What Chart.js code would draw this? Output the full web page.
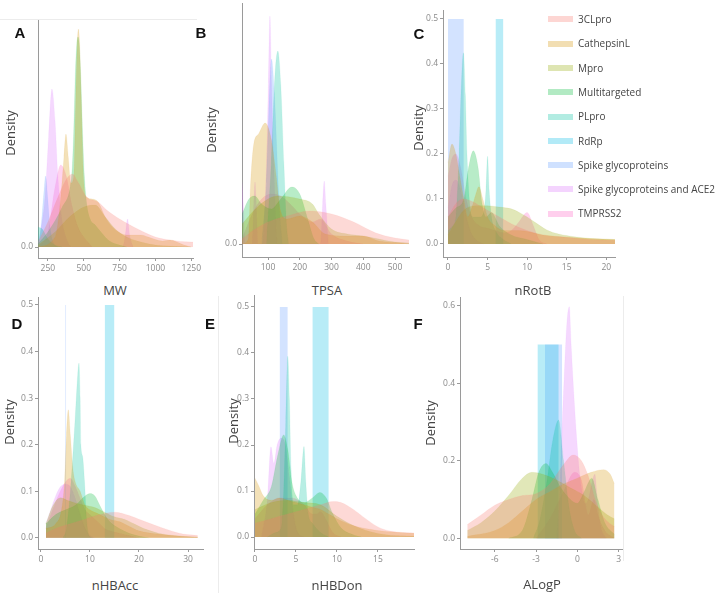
<!DOCTYPE html>
<html>
<head>
<meta charset="utf-8">
<script src="https://cdn.jsdelivr.net/npm/chart.js@4"></script>
<style>
  body { margin: 0; background: #fff; }
  #fig { position: relative; width: 722px; height: 593px; overflow: hidden; font-family: "Open Sans", sans-serif; }
  #fig canvas { position: absolute; }
  .titulo { position: absolute; white-space: nowrap; color: #444; font-size: 13px; transform: translate(-50%, -50%); }
  .dens { position: absolute; white-space: nowrap; color: #444; font-size: 13px; transform: translate(-50%, -50%) rotate(-90deg); }
  .letra { position: absolute; font: bold 15px "Liberation Sans", Arial, sans-serif; color: #111; transform: translate(-50%, -50%); }
  .leyenda { position: absolute; left: 548px; height: 12px; white-space: nowrap; font-size: 10px; color: #444; }
  .leyenda span { display: inline-block; width: 25px; height: 6px; margin-right: 5px; vertical-align: middle; position: relative; top: -1px; }
  .marco { position: absolute; background: #ececec; }
</style>
</head>
<body>
<div id="fig"></div>
<script>
// Grupos y colores (paleta ggplot)
const nombresSeries = ["3CLpro", "CathepsinL", "Mpro", "Multitargeted", "PLpro", "RdRp",
  "Spike glycoproteins", "Spike glycoproteins and ACE2", "TMPRSS2"];
const coloresSeries = ["#F8766D", "#D39200", "#93AA00", "#00BA38", "#00C19F", "#00B9E3",
  "#619CFF", "#DB72FB", "#FF61C3"];

// Ticks
const ticksMW = [250, 500, 750, 1000, 1250];
const ticksTPSA = [100, 200, 300, 400, 500];
const ticksRotB = [0, 5, 10, 15, 20];
const ticksHBAcc = [0, 10, 20, 30];
const ticksHBDon = [0, 5, 10, 15];
const ticksALogP = [-6, -3, 0, 3];
const ticksDensCero = [0];
const ticksDens05 = [0, 0.1, 0.2, 0.3, 0.4, 0.5];
const ticksDens06 = [0, 0.2, 0.4, 0.6];

// A: MW
const mw3CLpro = [[181,0.00025],[250,0.00125],[320,0.0025],[380,0.0034],[420,0.00365],[460,0.00325],[520,0.0025],[600,0.00225],[660,0.00185],[750,0.0014],[890,0.00085],[1000,0.0005],[1100,0.00035],[1250,0.00025],[1262,0.00025]];
const mwCathepsinL = [[181,0],[300,0.0005],[340,0.0025],[362,0.0045],[376,0.00565],[392,0.0045],[410,0.0032],[430,0.0035],[445,0.0075],[455,0.0102],[463,0.0109],[471,0.0102],[482,0.0075],[498,0.0035],[520,0.0025],[560,0.0024],[600,0.00225],[650,0.0015],[700,0.001],[800,0.0006],[900,0.0006],[950,0.0005],[1050,0.0003],[1100,0.00035],[1200,0.0001],[1250,0]];
const mwMpro = [[181,0.0001],[300,0.00075],[400,0.0015],[500,0.002],[580,0.0021],[650,0.0015],[720,0.0009],[800,0.0005],[900,0.00025],[1000,0.0001],[1100,0.00005],[1250,0]];
const mwMultitargeted = [[181,0.00015],[250,0.00075],[350,0.002],[405,0.003],[420,0.004],[430,0.0058],[442,0.0088],[452,0.0102],[460,0.0105],[468,0.0102],[478,0.0088],[492,0.0057],[505,0.0035],[520,0.0022],[545,0.0014],[580,0.0011],[620,0.00075],[680,0.0003],[750,0.0001],[800,0]];
const mwPLpro = [[181,0.001],[210,0.0009],[250,0.0004],[300,0.0001],[350,0]];
const mwRdRp = [];
const mwSpike = [[181,0],[205,0.00125],[222,0.00275],[234,0.00355],[248,0.0025],[265,0.001],[290,0.0002],[320,0]];
const mwSpikeACE2 = [[181,0],[200,0.0008],[230,0.0025],[255,0.0055],[278,0.0079],[300,0.0063],[320,0.0035],[345,0.0015],[380,0.0004],[420,0],[770,0],[790,0.0006],[805,0.0014],[820,0.0006],[845,0]];
const mwTMPRSS2 = [[181,0],[250,0.00075],[300,0.003],[340,0.0041],[380,0.0035],[420,0.002],[460,0.001],[500,0.0005],[560,0]];

// B: TPSA
const tpsa3CLpro = [[18,0.0005],[60,0.0015],[100,0.0022],[160,0.0028],[230,0.0033],[300,0.003],[370,0.0022],[440,0.0011],[500,0.0006],[544,0.0004]];
const tpsaCathepsinL = [[18,0],[38,0.0005],[45,0.006],[55,0.01],[70,0.011],[91,0.0121],[110,0.0105],[125,0.007],[138,0.0035],[160,0.0025],[200,0.0028],[240,0.0022],[280,0.001],[350,0.0008],[400,0.0008],[450,0.0003],[520,0.0001],[544,0]];
const tpsaMpro = [[18,0.002],[60,0.0035],[100,0.0045],[130,0.0048],[200,0.0045],[240,0.004],[260,0.003],[300,0.0015],[350,0.001],[400,0.0008],[500,0.0002],[544,0.0001]];
const tpsaMultitargeted = [[18,0.003],[40,0.0045],[58,0.0048],[80,0.004],[110,0.0035],[140,0.0045],[175,0.0057],[200,0.005],[225,0.0025],[245,0.0005],[260,0]];
const tpsaPLpro = [[95,0],[110,0.008],[122,0.017],[131,0.0193],[140,0.016],[150,0.008],[158,0.002],[165,0]];
const tpsaRdRp = [];
const tpsaSpike = [[80,0],[95,0.006],[111,0.0185],[120,0.015],[135,0.004],[145,0]];
const tpsaSpikeACE2 = [[18,0.0062],[22,0.004],[28,0],[50,0],[55,0.004],[59,0.0062],[63,0.004],[68,0],[82,0],[95,0.008],[101,0.016],[106,0.0228],[111,0.016],[118,0.008],[130,0],[265,0],[272,0.004],[277,0.0063],[282,0.004],[290,0]];
const tpsaTMPRSS2 = [[18,0.0005],[50,0.003],[80,0.0045],[110,0.005],[140,0.0048],[170,0.004],[200,0.003],[240,0.0022],[265,0.0025],[300,0.001],[350,0.0003],[400,0]];

// C: nRotB
const rotb3CLpro = [[0,0.06],[1,0.09],[2,0.1],[3,0.095],[4,0.085],[5,0.075],[6,0.065],[7,0.055],[8,0.045],[10,0.03],[12,0.02],[15,0.015],[18,0.01],[21.1,0.008]];
const rotbCathepsinL = [[0,0.18],[0.5,0.222],[1,0.2],[1.5,0.15],[2,0.1],[2.5,0.06],[3,0.08],[3.5,0.11],[3.9,0.127],[4.4,0.1],[5,0.06],[6,0.04],[7,0.03],[9,0.03],[12,0.02],[15,0.015],[21.1,0.01]];
const rotbMpro = [[0,0.02],[1,0.05],[2,0.075],[3.5,0.085],[5,0.085],[6.5,0.082],[8,0.078],[9,0.07],[10,0.06],[11,0.048],[12.5,0.031],[14,0.022],[16,0.016],[18,0.012],[21.1,0.01]];
const rotbMultitargeted = [[0,0.06],[1,0.08],[2,0.1],[2.6,0.17],[3.2,0.207],[3.8,0.17],[4.3,0.09],[4.8,0.06],[5.5,0.07],[6.5,0.04],[8,0.02],[10,0.01],[12,0]];
const rotbPLpro = [[0,0.03],[0.6,0.04],[1,0.06],[1.4,0.2],[1.7,0.36],[1.95,0.425],[2.2,0.33],[2.4,0.2],[2.8,0.08],[3.2,0.06],[4,0.06],[4.5,0.07],[4.8,0.12],[5,0.195],[5.2,0.12],[5.5,0.06],[6,0.03],[7,0.01],[8,0]];
const rotbRdRp = [[6,0],[6,0.5],[7,0.5],[7,0]];
const rotbSpike = [[0,0],[0,0.5],[2,0.5],[2,0]];
const rotbSpikeACE2 = [[0,0.08],[0.5,0.13],[1,0.142],[1.6,0.12],[2.2,0.07],[2.8,0.03],[3.5,0.01],[4.5,0]];
const rotbTMPRSS2 = [[0,0.15],[0.5,0.19],[1,0.2],[1.6,0.17],[2.3,0.1],[3,0.06],[4,0.04],[5,0.035],[6,0.03],[7,0.025],[8,0.03],[9,0.05],[10,0.07],[10.8,0.04],[11.5,0.01],[12.5,0]];

// D: nHBAcc
const hba3CLpro = [[1,0.01],[3,0.02],[6,0.03],[9,0.04],[12,0.05],[15,0.055],[18,0.048],[20,0.04],[23,0.028],[26,0.017],[29,0.008],[32,0.005]];
const hbaCathepsinL = [[1,0.02],[3,0.03],[4.2,0.06],[4.8,0.12],[5.2,0.22],[5.58,0.275],[6,0.22],[6.5,0.15],[7,0.12],[8,0.1],[9,0.07],[10,0.06],[12,0.05],[14,0.04],[16,0.035],[18,0.025],[20,0.015],[24,0.008],[28,0.004],[32,0.002]];
const hbaMpro = [[1,0.03],[2.5,0.07],[4,0.086],[5.5,0.08],[7,0.075],[9,0.07],[11,0.065],[13,0.055],[15,0.045],[17,0.04],[19,0.03],[21,0.02],[24,0.01],[27,0.005],[32,0.001]];
const hbaMultitargeted = [[1,0.03],[3,0.05],[5,0.06],[7,0.07],[9,0.09],[10,0.095],[11,0.09],[12,0.07],[13,0.05],[14,0.035],[16,0.02],[18,0.01],[20,0.004],[22,0]];
const hbaPLpro = [[4.5,0],[5.2,0.02],[6,0.1],[6.5,0.175],[7,0.26],[7.5,0.35],[7.76,0.375],[8,0.3],[8.15,0.2],[8.5,0.175],[8.9,0.12],[9.3,0.04],[9.8,0.005],[10.5,0]];
const hbaRdRp = [[13,0],[13,0.5],[15,0.5],[15,0]];
const hbaSpike = [[4.95,0],[4.95,0.5],[5.15,0.5],[5.15,0]];
const hbaSpikeACE2 = [[1,0.03],[2,0.06],[3,0.09],[4,0.11],[5,0.115],[6,0.11],[7,0.085],[8,0.05],[9,0.02],[10,0.005],[11,0]];
const hbaTMPRSS2 = [[1,0.02],[2,0.05],[3.5,0.09],[5,0.12],[6,0.128],[7,0.11],[8,0.085],[9,0.06],[10,0.05],[11,0.04],[12,0.03],[13,0.02],[14,0.015],[16,0.01],[18,0.005],[20,0]];

// E: nHBDon
const hbd3CLpro = [[0,0.03],[2,0.04],[4,0.05],[6,0.06],[8,0.07],[9.5,0.077],[10.5,0.075],[12,0.06],[13.5,0.04],[15,0.022],[16.5,0.013],[18,0.01],[19.4,0.009]];
const hbdCathepsinL = [[0,0.128],[0.5,0.11],[1,0.09],[2,0.08],[3,0.085],[4,0.08],[5,0.075],[6,0.07],[7,0.065],[8,0.06],[9,0.05],[10,0.04],[12,0.025],[14,0.017],[16,0.012],[19.4,0.008]];
const hbdMpro = [[0,0.06],[2,0.075],[4,0.08],[6,0.075],[8,0.07],[10,0.045],[12,0.025],[14,0.012],[16,0.005],[19.4,0.002]];
const hbdMultitargeted = [[0,0.05],[1,0.08],[2,0.11],[2.8,0.18],[3.5,0.222],[4,0.19],[4.5,0.12],[5,0.09],[6,0.075],[7,0.085],[7.9,0.097],[8.7,0.085],[9.5,0.05],[10.5,0.02],[12,0.005],[13,0]];
const hbdPLpro = [[1.5,0],[2.5,0.01],[3.2,0.02],[3.5,0.1],[3.75,0.25],[4,0.393],[4.2,0.3],[4.4,0.15],[4.7,0.07],[5.2,0.07],[5.6,0.12],[5.98,0.197],[6.2,0.12],[6.5,0.05],[7,0.03],[8,0.01],[9,0]];
const hbdRdRp = [[7,0],[7,0.5],[9,0.5],[9,0]];
const hbdSpike = [[3,0],[3,0.5],[4,0.5],[4,0]];
const hbdSpikeACE2 = [[0.8,0],[1.5,0.08],[1.95,0.196],[2.3,0.16],[2.7,0.2],[3.2,0.215],[3.7,0.2],[4.2,0.13],[4.7,0.05],[5.2,0.01],[6,0]];
const hbdTMPRSS2 = [[0,0.04],[1.5,0.07],[3,0.085],[4.5,0.085],[6,0.07],[7,0.05],[7.5,0.05],[8,0.055],[8.6,0.04],[9.5,0.01],[10.5,0]];

// F: ALogP
const alogp3CLpro = [[-8,0.035],[-7,0.06],[-6,0.085],[-5,0.1],[-4,0.11],[-3,0.115],[-2,0.14],[-1,0.19],[-0.3,0.215],[0.3,0.2],[0.8,0.16],[1.3,0.1],[1.8,0.06],[2.3,0.04],[2.7,0.03]];
const alogpCathepsinL = [[-8,0.005],[-6,0.02],[-5,0.04],[-4,0.07],[-3,0.1],[-2,0.12],[-1,0.14],[0,0.155],[1,0.17],[1.9,0.177],[2.4,0.165],[2.7,0.14]];
const alogpMpro = [[-8,0.02],[-7,0.04],[-6,0.07],[-5,0.11],[-4,0.155],[-3.3,0.17],[-2.5,0.165],[-1.5,0.15],[-0.5,0.13],[0.5,0.11],[1.5,0.08],[2.2,0.06],[2.7,0.05]];
const alogpMultitargeted = [[-5,0],[-4,0.02],[-3.3,0.1],[-2.8,0.17],[-2.28,0.193],[-1.8,0.17],[-1.2,0.13],[-0.5,0.1],[0,0.09],[0.5,0.12],[1.05,0.155],[1.5,0.1],[2,0.04],[2.7,0.01]];
const alogpPLpro = [[-3.2,0],[-2.7,0.05],[-2.2,0.15],[-1.8,0.25],[-1.36,0.305],[-1.0,0.2],[-0.6,0.08],[-0.2,0.02],[0.3,0]];
const alogpRdRp = [[-2.9,0],[-2.9,0.5],[-1.35,0.5],[-1.35,0]];
const alogpSpike = [[-2.35,0],[-2.35,0.5],[-1.1,0.5],[-1.1,0]];
const alogpSpikeACE2 = [[-1.5,0],[-1.3,0.1],[-1.15,0.25],[-0.95,0.42],[-0.75,0.56],[-0.58,0.598],[-0.45,0.5],[-0.25,0.37],[-0.05,0.26],[0.1,0.19],[0.3,0.13],[0.55,0.09],[0.8,0.1],[1.1,0.15],[1.28,0.165],[1.45,0.1],[1.7,0.03],[2.1,0]];
const alogpTMPRSS2 = [[-3,0],[-2,0.05],[-1,0.12],[-0.2,0.17],[0.3,0.15],[0.8,0.06],[1.2,0.1],[1.5,0.06],[2,0.02],[2.7,0]];

const seriesMW = [mw3CLpro, mwCathepsinL, mwMpro, mwMultitargeted, mwPLpro, mwRdRp, mwSpike, mwSpikeACE2, mwTMPRSS2];
const seriesTPSA = [tpsa3CLpro, tpsaCathepsinL, tpsaMpro, tpsaMultitargeted, tpsaPLpro, tpsaRdRp, tpsaSpike, tpsaSpikeACE2, tpsaTMPRSS2];
const seriesRotB = [rotb3CLpro, rotbCathepsinL, rotbMpro, rotbMultitargeted, rotbPLpro, rotbRdRp, rotbSpike, rotbSpikeACE2, rotbTMPRSS2];
const seriesHBAcc = [hba3CLpro, hbaCathepsinL, hbaMpro, hbaMultitargeted, hbaPLpro, hbaRdRp, hbaSpike, hbaSpikeACE2, hbaTMPRSS2];
const seriesHBDon = [hbd3CLpro, hbdCathepsinL, hbdMpro, hbdMultitargeted, hbdPLpro, hbdRdRp, hbdSpike, hbdSpikeACE2, hbdTMPRSS2];
const seriesALogP = [alogp3CLpro, alogpCathepsinL, alogpMpro, alogpMultitargeted, alogpPLpro, alogpRdRp, alogpSpike, alogpSpikeACE2, alogpTMPRSS2];

// Paneles: caja del area de dibujo (px) y rangos
const paneles = [
  {letra: "A", L: 38, R: 193, T: 20, B: 258, xmin: 181, xmax: 1262, ymin: -0.00055, ymax: 0.01135,
   xt: ticksMW, yt: ticksDensCero, series: seriesMW, titulo: "MW", tx: 115, ty: 290, dx: 10, dy: 133, lx: 20, ly: 32},
  {letra: "B", L: 242, R: 409, T: 3, B: 257, xmin: 18, xmax: 544, ymin: -0.0013, ymax: 0.0241,
   xt: ticksTPSA, yt: ticksDensCero, series: seriesTPSA, titulo: "TPSA", tx: 327, ty: 290, dx: 211, dy: 130, lx: 201, ly: 32},
  {letra: "C", L: 443, R: 615, T: 10, B: 257, xmin: -0.63, xmax: 21.1, ymin: -0.029, ymax: 0.52,
   xt: ticksRotB, yt: ticksDens05, series: seriesRotB, titulo: "nRotB", tx: 533, ty: 290, dx: 418, dy: 128, lx: 419, ly: 33},
  {letra: "D", L: 38, R: 203, T: 297, B: 549, xmin: -0.6, xmax: 33.06, ymin: -0.024, ymax: 0.517,
   xt: ticksHBAcc, yt: ticksDens05, series: seriesHBAcc, titulo: "nHBAcc", tx: 115, ty: 585, dx: 9, dy: 422, lx: 17, ly: 323},
  {letra: "E", L: 254, R: 414, T: 295, B: 549, xmin: -0.12, xmax: 19.4, ymin: -0.026, ymax: 0.526,
   xt: ticksHBDon, yt: ticksDens05, series: seriesHBDon, titulo: "nHBDon", tx: 337, ty: 585, dx: 233, dy: 421, lx: 210, ly: 323},
  {letra: "F", L: 460, R: 622, T: 297, B: 549, xmin: -8.53, xmax: 3.25, ymin: -0.028, ymax: 0.623,
   xt: ticksALogP, yt: ticksDens06, series: seriesALogP, titulo: "ALogP", tx: 542, ty: 584, dx: 430, dy: 423, lx: 418, ly: 323}
];

const fig = document.getElementById("fig");

function rgba(hex, a) {
  const n = parseInt(hex.slice(1), 16);
  return "rgba(" + (n >> 16) + "," + ((n >> 8) & 255) + "," + (n & 255) + "," + a + ")";
}

function esRectangulo(pts) {
  return pts.some((p, i) => i > 0 && p[0] === pts[i - 1][0]);
}

function crearEtiqueta(clase, texto, x, y) {
  const d = document.createElement("div");
  d.className = clase;
  d.textContent = texto;
  d.style.left = x + "px";
  d.style.top = y + "px";
  fig.appendChild(d);
}

function crearPanel(p) {
  const padT = 8, padR = 8, anchoY = 34, altoX = 22;
  const w = p.R - p.L + anchoY + padR;
  const h = p.B - p.T + padT + altoX;
  const canvas = document.createElement("canvas");
  canvas.width = w;
  canvas.height = h;
  canvas.style.left = (p.L - anchoY) + "px";
  canvas.style.top = (p.T - padT) + "px";
  canvas.style.width = w + "px";
  canvas.style.height = h + "px";
  fig.appendChild(canvas);

  const datasets = p.series.map((pts, i) => {
    const rect = esRectangulo(pts);
    return {
      label: nombresSeries[i],
      data: pts.map(q => ({x: q[0], y: q[1]})),
      backgroundColor: rgba(coloresSeries[i], 0.28),
      borderColor: rgba(coloresSeries[i], 0.12),
      borderWidth: rect ? 0 : 0.6,
      fill: "origin",
      pointRadius: 0,
      tension: rect ? 0 : 0.4,
      cubicInterpolationMode: rect ? "default" : "monotone"
    };
  });

  const eje = {
    border: {display: true, color: "#9a9a9a", width: 1},
    grid: {display: true, drawOnChartArea: false, drawTicks: true, tickLength: 3, color: "#9a9a9a"},
    ticks: {color: "#8a8a8a", font: {family: "Open Sans", size: 8.5}, padding: 2, maxRotation: 0, autoSkip: false}
  };

  new Chart(canvas.getContext("2d"), {
    type: "line",
    data: {datasets: datasets},
    options: {
      responsive: false,
      animation: false,
      events: [],
      layout: {padding: {top: padT, right: padR, left: 0, bottom: 0}},
      plugins: {legend: {display: false}, tooltip: {enabled: false}},
      scales: {
        x: Object.assign({}, eje, {
          type: "linear", min: p.xmin, max: p.xmax,
          ticks: Object.assign({}, eje.ticks, {callback: v => String(v)}),
          afterBuildTicks: s => { s.ticks = p.xt.map(v => ({value: v})); },
          afterFit: s => { s.height = altoX; s.paddingLeft = 0; s.paddingRight = 0; }
        }),
        y: Object.assign({}, eje, {
          type: "linear", min: p.ymin, max: p.ymax,
          ticks: Object.assign({}, eje.ticks, {callback: v => Number(v).toFixed(1)}),
          afterBuildTicks: s => { s.ticks = p.yt.map(v => ({value: v})); },
          afterFit: s => { s.width = anchoY; s.paddingTop = 0; s.paddingBottom = 0; }
        })
      }
    }
  });

  crearEtiqueta("titulo", p.titulo, p.tx, p.ty);
  crearEtiqueta("dens", "Density", p.dx, p.dy);
  crearEtiqueta("letra", p.letra, p.lx, p.ly);
}

// Marcos tenues
[[0, 19, 197, 1], [218, 296, 1, 297], [623, 296, 1, 265]].forEach(m => {
  const d = document.createElement("div");
  d.className = "marco";
  d.style.left = m[0] + "px"; d.style.top = m[1] + "px";
  d.style.width = m[2] + "px"; d.style.height = m[3] + "px";
  fig.appendChild(d);
});

paneles.forEach(crearPanel);

// Leyenda
nombresSeries.forEach((nombre, i) => {
  const fila = document.createElement("div");
  fila.className = "leyenda";
  fila.style.top = (19 + i * 24.3 - 7) + "px";
  const muestra = document.createElement("span");
  muestra.style.background = rgba(coloresSeries[i], 0.3);
  fila.appendChild(muestra);
  fila.appendChild(document.createTextNode(nombre));
  fig.appendChild(fila);
});
</script>
</body>
</html>
